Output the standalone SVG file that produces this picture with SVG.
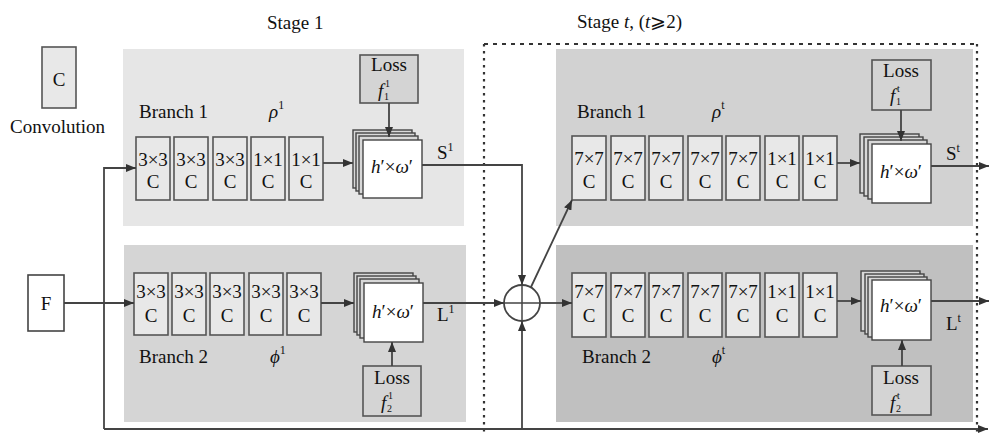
<svg xmlns="http://www.w3.org/2000/svg" width="989" height="435" viewBox="0 0 989 435">
<defs>
<marker id="ah" markerWidth="10" markerHeight="8" refX="10" refY="4" orient="auto" markerUnits="userSpaceOnUse"><path d="M0,0 L10,4 L0,8 z" fill="#333"/></marker>
<style>
text{font-family:"Liberation Serif","DejaVu Serif",serif;font-size:19px;fill:#111}
.c{text-anchor:middle}
.i{font-style:italic}
.sm{font-size:12px}
.xs{font-size:10px}
.blk rect{fill:#e8e8e8;stroke:#555;stroke-width:1.6}
.loss rect{fill:#d4d4d4;stroke:#555;stroke-width:1.6}
.sh rect{stroke:#444;stroke-width:1.4}
.sh .b{fill:#d8d8d8}
.sh .f{fill:#fff}
.ln{fill:none;stroke:#444;stroke-width:1.8}
.ar{marker-end:url(#ah)}
</style>
</defs>
<rect width="989" height="435" fill="#fff"/>

<!-- panels -->
<g id="panels">
<rect x="123" y="49" width="341" height="177" fill="#e6e6e6"/>
<rect x="124" y="245" width="342" height="177" fill="#d5d5d5"/>
<rect x="556" y="49" width="417" height="177" fill="#d2d2d2"/>
<rect x="556" y="245" width="417" height="177" fill="#c0c0c0"/>
</g>

<!-- titles -->
<text x="267" y="29">Stage 1</text>
<text x="577" y="28">Stage <tspan class="i">t</tspan>, (<tspan class="i">t</tspan>⩾2)</text>

<!-- legend -->
<g id="legend">
<g class="blk"><rect x="42" y="47" width="34" height="61"/></g>
<text class="c" x="59" y="86">C</text>
<text x="10" y="133">Convolution</text>
</g>

<g id="F"><rect x="28" y="275" width="36" height="56" fill="#fff" stroke="#444" stroke-width="1.6"/><text class="c" x="46" y="310">F</text></g>

<!-- labels -->
<text x="139" y="118">Branch 1</text>
<text x="269" y="118"><tspan class="i">ρ</tspan><tspan class="sm" dy="-9">1</tspan></text>
<text x="139" y="363">Branch 2</text>
<text x="270" y="363"><tspan class="i">ϕ</tspan><tspan class="sm" dy="-9">1</tspan></text>
<text x="577" y="118">Branch 1</text>
<text x="712" y="118"><tspan class="i">ρ</tspan><tspan class="sm" dy="-9">t</tspan></text>
<text x="582" y="363">Branch 2</text>
<text x="712" y="363"><tspan class="i">ϕ</tspan><tspan class="sm" dy="-9">t</tspan></text>
<text x="437" y="159">S<tspan class="sm" dy="-8">1</tspan></text>
<text x="437" y="321">L<tspan class="sm" dy="-8">1</tspan></text>
<text x="946" y="160">S<tspan class="sm" dy="-8">t</tspan></text>
<text x="946" y="330">L<tspan class="sm" dy="-8">t</tspan></text>

<!-- stage 1 branch 1 blocks -->
<g id="s1b1-1" class="blk"><rect x="136" y="137" width="34" height="63"/><text class="c" x="153" y="166">3×3</text><text class="c" x="153" y="188">C</text></g>
<g id="s1b1-2" class="blk"><rect x="174" y="137" width="34" height="63"/><text class="c" x="191" y="166">3×3</text><text class="c" x="191" y="188">C</text></g>
<g id="s1b1-3" class="blk"><rect x="213" y="137" width="34" height="63"/><text class="c" x="230" y="166">3×3</text><text class="c" x="230" y="188">C</text></g>
<g id="s1b1-4" class="blk"><rect x="251" y="137" width="34" height="63"/><text class="c" x="268" y="166">1×1</text><text class="c" x="268" y="188">C</text></g>
<g id="s1b1-5" class="blk"><rect x="289" y="137" width="34" height="63"/><text class="c" x="306" y="166">1×1</text><text class="c" x="306" y="188">C</text></g>

<!-- stage 1 branch 2 blocks -->
<g id="s1b2-1" class="blk"><rect x="134" y="273" width="34" height="62"/><text class="c" x="151" y="298">3×3</text><text class="c" x="151" y="322">C</text></g>
<g id="s1b2-2" class="blk"><rect x="172" y="273" width="34" height="62"/><text class="c" x="189" y="298">3×3</text><text class="c" x="189" y="322">C</text></g>
<g id="s1b2-3" class="blk"><rect x="210" y="273" width="34" height="62"/><text class="c" x="227" y="298">3×3</text><text class="c" x="227" y="322">C</text></g>
<g id="s1b2-4" class="blk"><rect x="249" y="273" width="34" height="62"/><text class="c" x="266" y="298">3×3</text><text class="c" x="266" y="322">C</text></g>
<g id="s1b2-5" class="blk"><rect x="287" y="273" width="34" height="62"/><text class="c" x="304" y="298">3×3</text><text class="c" x="304" y="322">C</text></g>

<!-- stage t branch 1 blocks -->
<g id="stb1-1" class="blk"><rect x="572" y="136" width="34" height="64"/><text class="c" x="589" y="165">7×7</text><text class="c" x="589" y="188">C</text></g>
<g id="stb1-2" class="blk"><rect x="611" y="136" width="34" height="64"/><text class="c" x="628" y="165">7×7</text><text class="c" x="628" y="188">C</text></g>
<g id="stb1-3" class="blk"><rect x="649" y="136" width="34" height="64"/><text class="c" x="666" y="165">7×7</text><text class="c" x="666" y="188">C</text></g>
<g id="stb1-4" class="blk"><rect x="688" y="136" width="34" height="64"/><text class="c" x="705" y="165">7×7</text><text class="c" x="705" y="188">C</text></g>
<g id="stb1-5" class="blk"><rect x="726" y="136" width="34" height="64"/><text class="c" x="743" y="165">7×7</text><text class="c" x="743" y="188">C</text></g>
<g id="stb1-6" class="blk"><rect x="765" y="136" width="34" height="64"/><text class="c" x="782" y="165">1×1</text><text class="c" x="782" y="188">C</text></g>
<g id="stb1-7" class="blk"><rect x="803" y="136" width="34" height="64"/><text class="c" x="820" y="165">1×1</text><text class="c" x="820" y="188">C</text></g>

<!-- stage t branch 2 blocks -->
<g id="stb2-1" class="blk"><rect x="572" y="273" width="34" height="64"/><text class="c" x="589" y="298">7×7</text><text class="c" x="589" y="322">C</text></g>
<g id="stb2-2" class="blk"><rect x="611" y="273" width="34" height="64"/><text class="c" x="628" y="298">7×7</text><text class="c" x="628" y="322">C</text></g>
<g id="stb2-3" class="blk"><rect x="649" y="273" width="34" height="64"/><text class="c" x="666" y="298">7×7</text><text class="c" x="666" y="322">C</text></g>
<g id="stb2-4" class="blk"><rect x="688" y="273" width="34" height="64"/><text class="c" x="705" y="298">7×7</text><text class="c" x="705" y="322">C</text></g>
<g id="stb2-5" class="blk"><rect x="726" y="273" width="34" height="64"/><text class="c" x="743" y="298">7×7</text><text class="c" x="743" y="322">C</text></g>
<g id="stb2-6" class="blk"><rect x="765" y="273" width="34" height="64"/><text class="c" x="782" y="298">1×1</text><text class="c" x="782" y="322">C</text></g>
<g id="stb2-7" class="blk"><rect x="803" y="273" width="34" height="64"/><text class="c" x="820" y="298">1×1</text><text class="c" x="820" y="322">C</text></g>

<!-- feature map stacks -->
<g id="s1-map1" class="sh"><rect class="b" x="353" y="130" width="59" height="58"/><rect class="b" x="356" y="133" width="59" height="58"/><rect class="b" x="359" y="136" width="59" height="58"/><rect class="f" x="363" y="140" width="59" height="58"/><text class="c" x="392" y="173"><tspan class="i">h</tspan>′×<tspan class="i">ω</tspan>′</text></g>
<g id="s1-map2" class="sh"><rect class="b" x="354" y="273" width="59" height="59"/><rect class="b" x="357" y="276" width="59" height="59"/><rect class="b" x="360" y="279" width="59" height="59"/><rect class="f" x="364" y="283" width="59" height="59"/><text class="c" x="393" y="318"><tspan class="i">h</tspan>′×<tspan class="i">ω</tspan>′</text></g>
<g id="st-map1" class="sh"><rect class="b" x="860" y="134" width="59" height="59"/><rect class="b" x="864" y="137" width="59" height="59"/><rect class="b" x="868" y="140" width="59" height="59"/><rect class="f" x="872" y="144" width="59" height="59"/><text class="c" x="901" y="178"><tspan class="i">h</tspan>′×<tspan class="i">ω</tspan>′</text></g>
<g id="st-map2" class="sh"><rect class="b" x="861" y="271" width="59" height="60"/><rect class="b" x="865" y="274" width="59" height="60"/><rect class="b" x="868" y="277" width="59" height="60"/><rect class="f" x="872" y="280" width="59" height="60"/><text class="c" x="901" y="312"><tspan class="i">h</tspan>′×<tspan class="i">ω</tspan>′</text></g>

<!-- loss boxes -->
<g id="s1-loss1" class="loss"><rect x="360" y="55" width="58" height="48"/><text class="c" x="389" y="71">Loss</text><text class="i" x="378" y="97">f</text><text class="xs" x="384" y="100">1</text><text class="xs" x="385" y="87">1</text></g>
<g id="s1-loss2" class="loss"><rect x="363" y="366" width="58" height="50"/><text class="c" x="392" y="384">Loss</text><text class="i" x="381" y="409">f</text><text class="xs" x="387" y="412">2</text><text class="xs" x="388" y="399">1</text></g>
<g id="st-loss1" class="loss"><rect x="872" y="60" width="59" height="50"/><text class="c" x="901" y="77">Loss</text><text class="i" x="890" y="102">f</text><text class="xs" x="896" y="105">1</text><text class="xs" x="897" y="92">t</text></g>
<g id="st-loss2" class="loss"><rect x="872" y="366" width="59" height="49"/><text class="c" x="901" y="384">Loss</text><text class="i" x="890" y="409">f</text><text class="xs" x="896" y="412">2</text><text class="xs" x="897" y="399">t</text></g>

<!-- sum node -->
<g id="sum"><circle cx="522" cy="303" r="18" fill="none" stroke="#444" stroke-width="1.8"/><path d="M504,303 H540 M522,285 V321" stroke="#444" stroke-width="1.5"/></g>

<!-- stage t boundary -->
<g id="stage-t-box" stroke="#333" stroke-width="2.2" fill="none">
<path d="M484,44 H977" stroke-dasharray="4,5"/>
<path d="M484,44 V435 M977,44 V435" stroke-dasharray="2.5,4.5"/>
</g>

<!-- connectors -->
<g id="connectors">
<path class="ln ar" d="M64,303 H134"/>
<path class="ln ar" d="M104,429 V168 H136"/>
<path class="ln ar" d="M104,429 H988"/>
<path class="ln ar" d="M522,429 V321"/>
<path class="ln ar" d="M323,163 H353"/>
<path class="ln ar" d="M321,303 H354"/>
<path class="ln ar" d="M389,103 V137"/>
<path class="ln ar" d="M392,366 V342"/>
<path class="ln ar" d="M422,165 H522 V285"/>
<path class="ln ar" d="M423,303 H504"/>
<path class="ln ar" d="M540,303 H572"/>
<path class="ln ar" d="M531,287 L572,200"/>
<path class="ln ar" d="M837,163 H860"/>
<path class="ln ar" d="M837,301 H861"/>
<path class="ln ar" d="M901,110 V141"/>
<path class="ln ar" d="M902,366 V340"/>
<path class="ln ar" d="M931,166 H989"/>
<path class="ln ar" d="M931,301 H989"/>
</g>
</svg>
